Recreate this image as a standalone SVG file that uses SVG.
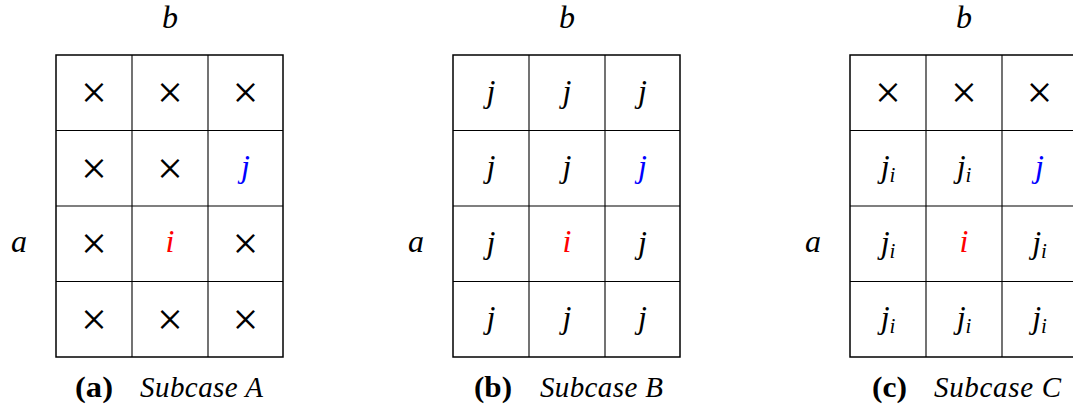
<svg xmlns="http://www.w3.org/2000/svg" width="1073" height="410" viewBox="0 0 1073 410">
<style>
.bg{fill:#fff}
.outer{fill:none;stroke:#000;stroke-width:1.5}
.inner{stroke:#000;stroke-width:1.1}
.m{font-family:"Liberation Serif",serif;font-style:italic;font-size:32px;fill:#000;text-anchor:middle}
.x{font-family:"Liberation Serif",serif;font-size:46px;fill:#000;text-anchor:middle}
.sub{font-size:21px}
.red{fill:#ff0000}
.blue{fill:#0000ff}
.capb{font-family:"Liberation Serif",serif;font-weight:bold;font-size:29px;fill:#000}
.capi{font-family:"Liberation Serif",serif;font-style:italic;font-size:29px;fill:#000}
</style>
<rect class="bg" width="1073" height="410"/>
<g id="gridA">
<rect class="outer" x="56" y="55" width="227" height="302"/>
<path class="inner" d="M132,55V357M208,55V357M56,130.5H283M56,206H283M56,281.5H283"/>
</g>
<g id="gridB">
<rect class="outer" x="453" y="55" width="227" height="302"/>
<path class="inner" d="M529,55V357M605,55V357M453,130.5H680M453,206H680M453,281.5H680"/>
</g>
<g id="gridC">
<rect class="outer" x="850" y="55" width="227" height="302"/>
<path class="inner" d="M926,55V357M1002,55V357M850,130.5H1077M850,206H1077M850,281.5H1077"/>
</g>
<g id="labels">
<text class="m" x="170" y="28">b</text>
<text class="m" x="567" y="28">b</text>
<text class="m" x="964" y="28">b</text>
<text class="m" x="19" y="252">a</text>
<text class="m" x="416" y="252">a</text>
<text class="m" x="813" y="252">a</text>
</g>
<g id="cellsA">
<text class="x" x="94" y="108">×</text><text class="x" x="170" y="108">×</text><text class="x" x="245.5" y="108">×</text>
<text class="x" x="94" y="183.5">×</text><text class="x" x="170" y="183.5">×</text><text class="m blue" x="245.5" y="177">j</text>
<text class="x" x="94" y="259">×</text><text class="m red" x="170" y="252">i</text><text class="x" x="245.5" y="259">×</text>
<text class="x" x="94" y="334.5">×</text><text class="x" x="170" y="334.5">×</text><text class="x" x="245.5" y="334.5">×</text>
</g>
<g id="cellsB">
<text class="m" x="491" y="101.5">j</text><text class="m" x="567" y="101.5">j</text><text class="m" x="642.5" y="101.5">j</text>
<text class="m" x="491" y="177">j</text><text class="m" x="567" y="177">j</text><text class="m blue" x="642.5" y="177">j</text>
<text class="m" x="491" y="252.5">j</text><text class="m red" x="567" y="252">i</text><text class="m" x="642.5" y="252.5">j</text>
<text class="m" x="491" y="328">j</text><text class="m" x="567" y="328">j</text><text class="m" x="642.5" y="328">j</text>
</g>
<g id="cellsC">
<text class="x" x="888" y="108">×</text><text class="x" x="964" y="108">×</text><text class="x" x="1039.5" y="108">×</text>
<text class="m" x="888" y="177">j<tspan class="sub" dy="5">i</tspan></text><text class="m" x="964" y="177">j<tspan class="sub" dy="5">i</tspan></text><text class="m blue" x="1039.5" y="177">j</text>
<text class="m" x="888" y="252.5">j<tspan class="sub" dy="5">i</tspan></text><text class="m red" x="964" y="252">i</text><text class="m" x="1039.5" y="252.5">j<tspan class="sub" dy="5">i</tspan></text>
<text class="m" x="888" y="328">j<tspan class="sub" dy="5">i</tspan></text><text class="m" x="964" y="328">j<tspan class="sub" dy="5">i</tspan></text><text class="m" x="1039.5" y="328">j<tspan class="sub" dy="5">i</tspan></text>
</g>
<g id="captions">
<text class="capb" x="75" y="397" textLength="38" lengthAdjust="spacingAndGlyphs">(a)</text>
<text class="capi" x="140" y="397" textLength="123" lengthAdjust="spacing">Subcase A</text>
<text class="capb" x="474" y="397" textLength="38" lengthAdjust="spacingAndGlyphs">(b)</text>
<text class="capi" x="540" y="397" textLength="123" lengthAdjust="spacing">Subcase B</text>
<text class="capb" x="872" y="397" textLength="35" lengthAdjust="spacingAndGlyphs">(c)</text>
<text class="capi" x="934" y="397" textLength="127" lengthAdjust="spacing">Subcase C</text>
</g>
</svg>
